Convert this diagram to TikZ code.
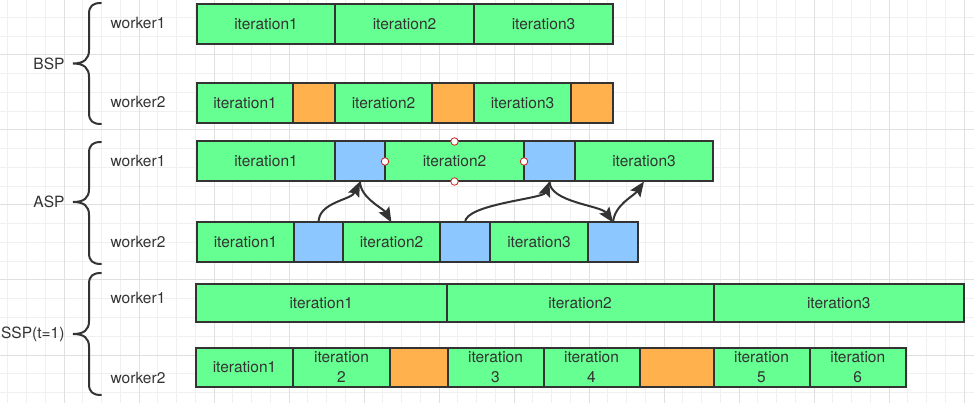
\documentclass[tikz,border=0pt]{standalone}
\usepackage{fontspec}
\setmainfont{TeX Gyre Heros}
\usetikzlibrary{arrows.meta}

\definecolor{itergreen}{HTML}{66FF92}
\definecolor{waitorange}{HTML}{FFB14E}
\definecolor{commblue}{HTML}{8CC8FF}
\definecolor{inkgray}{HTML}{333333}
\definecolor{gridminor}{HTML}{F0F0F0}
\definecolor{gridmajor}{HTML}{E0E0E0}
\definecolor{handlered}{HTML}{CC2222}

\tikzset{
  box/.style={draw=inkgray, line width=2pt, inner sep=0pt, outer sep=0pt,
    minimum height=40pt, text=inkgray, align=center,
    font=\fontsize{15.5}{19.5}\selectfont},
  itbox/.style={box, fill=itergreen},
  waitbox/.style={box, fill=waitorange},
  commbox/.style={box, fill=commblue},
  lbl/.style={text=inkgray, font=\fontsize{15.5}{19}\selectfont},
  curly/.style={draw=inkgray, line width=2pt, line cap=round},
  sync/.style={draw=inkgray, line width=2pt,
    -{Stealth[length=15pt, width=12pt, inset=2.5pt]}},
  selhandle/.style={circle, draw=handlered, fill=white, line width=0.8pt,
    minimum size=7.5pt, inner sep=0pt},
}

\begin{document}
\begin{tikzpicture}[x=1pt, y=-1pt]
        \useasboundingbox (0,0) rectangle (974,403);
        % background grid
        \begin{scope}
            \clip (0,0) rectangle (974,403);
            \draw[gridminor, line width=1pt, xshift=7.75pt, yshift=1.25pt] (-40,440) grid[step=18.75pt] (1000,-40);
            \draw[gridmajor, line width=1pt, xshift=-11pt, yshift=20pt] (-100,500) grid[step=75pt] (1100,-100);
        \end{scope}

        % braces
        \draw[curly] (101,3) .. controls (93,3) and (89,6) .. (89,14) -- (89,50) .. controls (89,59) and (84,63.5) .. (73,63.5)
            .. controls (84,63.5) and (89,68) .. (89,77) -- (89,113) .. controls (89,121) and (93,124) .. (101,124);
        \draw[curly] (101,142) .. controls (93,142) and (89,145) .. (89,153) -- (89,189) .. controls (89,198) and (84,202) .. (73,202)
            .. controls (84,202) and (89,206) .. (89,215) -- (89,253) .. controls (89,261) and (93,264) .. (101,264);
        \draw[curly] (101,273) .. controls (93,273) and (89,276) .. (89,284) -- (89,321) .. controls (89,330) and (84,334) .. (73,334)
            .. controls (84,334) and (89,338) .. (89,347) -- (89,384) .. controls (89,392) and (93,395) .. (101,395);

        % BSP
        \node[lbl, anchor=east] (bsp) at (68,63.5) {BSP};
        \node[lbl] (bw1) at (138,23) {worker1};
        \node[lbl] (bw2) at (138,102) {worker2};
        \node[itbox, minimum width=138pt] (b1i1) at (266,24) {iteration1};
        \node[itbox, minimum width=139pt] (b1i2) at (404.5,24) {iteration2};
        \node[itbox, minimum width=139pt] (b1i3) at (543.5,24) {iteration3};
        \node[itbox, minimum width=96pt] (b2i1) at (245,102.7) {iteration1};
        \node[waitbox, minimum width=42pt] (b2w1) at (314,102.7) {};
        \node[itbox, minimum width=97pt] (b2i2) at (383.5,102.7) {iteration2};
        \node[waitbox, minimum width=42pt] (b2w2) at (453,102.7) {};
        \node[itbox, minimum width=97pt] (b2i3) at (522.5,102.7) {iteration3};
        \node[waitbox, minimum width=42pt] (b2w3) at (592,102.7) {};

        % ASP
        \node[lbl, anchor=east] (asp) at (68,202) {ASP};
        \node[lbl] (aw1) at (138,161) {worker1};
        \node[lbl] (aw2) at (138,242) {worker2};
        \node[itbox, minimum width=138pt] (a1i1) at (266,161.5) {iteration1};
        \node[commbox, minimum width=50pt] (a1c1) at (360,161.5) {};
        \node[itbox, minimum width=139pt] (a1i2) at (454.5,161.5) {iteration2};
        \node[commbox, minimum width=51pt] (a1c2) at (549.5,161.5) {};
        \node[itbox, minimum width=138pt] (a1i3) at (644,161.5) {iteration3};
        \node[itbox, minimum width=97pt] (a2i1) at (245.5,242.5) {iteration1};
        \node[commbox, minimum width=49pt] (a2c1) at (318.5,242.5) {};
        \node[itbox, minimum width=97pt] (a2i2) at (391.5,242.5) {iteration2};
        \node[commbox, minimum width=50pt] (a2c2) at (465,242.5) {};
        \node[itbox, minimum width=98pt] (a2i3) at (539,242.5) {iteration3};
        \node[commbox, minimum width=50pt] (a2c3) at (613,242.5) {};

        % selection handles
        \node[selhandle] (hw) at (a1i2.west) {};
        \node[selhandle] (he) at (a1i2.east) {};
        \node[selhandle] (hn) at (a1i2.north) {};
        \node[selhandle] (hs) at (a1i2.south) {};

        % pushes and pulls
        \draw[sync] (a2c1.north) to[out=90, in=-115, looseness=0.9] (a1c1.south);
        \draw[sync] (a1c1.south) to[out=-90, in=120, looseness=0.8] (a2i2.north);
        \draw[sync] (a2c2.north) to[out=90, in=-110, looseness=0.5] (a1c2.south);
        \draw[sync] (a1c2.south) to[out=-90, in=125, looseness=0.7] (a2c3.north);
        \draw[sync] (a2c3.north) to[out=85, in=-125, looseness=0.9] (a1i3.south);

        % SSP
        \node[lbl, anchor=east] (ssp) at (68,334) {SSP(t=1)};
        \node[lbl] (sw1) at (138,298) {worker1};
        \node[lbl] (sw2) at (138,378) {worker2};
        \node[itbox, minimum width=250.5pt, minimum height=37.5pt] (s1i1) at (321.25,302.8) {iteration1};
        \node[itbox, minimum width=267pt, minimum height=37.5pt] (s1i2) at (580,302.8) {iteration2};
        \node[itbox, minimum width=250.5pt, minimum height=37.5pt] (s1i3) at (838.75,302.8) {iteration3};
        \node[itbox, minimum width=97pt, minimum height=39pt] (s2i1) at (244.5,367.2) {iteration1};
        \node[itbox, minimum width=97pt, minimum height=39pt] (s2i2) at (341.5,367.2) {iteration\\2};
        \node[waitbox, minimum width=57.5pt, minimum height=39pt] (s2w1) at (418.75,367.2) {};
        \node[itbox, minimum width=96pt, minimum height=39pt] (s2i3) at (495.5,367.2) {iteration\\3};
        \node[itbox, minimum width=96pt, minimum height=39pt] (s2i4) at (591.5,367.2) {iteration\\4};
        \node[waitbox, minimum width=74pt, minimum height=39pt] (s2w2) at (676.5,367.2) {};
        \node[itbox, minimum width=96pt, minimum height=39pt] (s2i5) at (761.5,367.2) {iteration\\5};
        \node[itbox, minimum width=96.5pt, minimum height=39pt] (s2i6) at (857.75,367.2) {iteration\\6};
    \end{tikzpicture}
\end{document}
